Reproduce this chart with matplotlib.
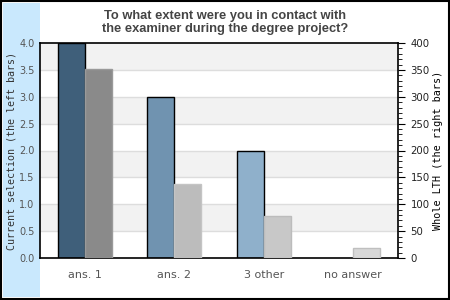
import matplotlib
matplotlib.use("Agg")
import matplotlib.pyplot as plt
from matplotlib.patches import Rectangle
from matplotlib.ticker import MultipleLocator

categories = ["ans. 1", "ans. 2", "3 other", "no answer"]
current = [4.0, 3.0, 2.0, 0.0]
whole = [352, 137, 78, 18]
blue_colors = ["#3f5f7a", "#7093b0", "#8fb0cb", "#b0c8dc"]
gray_colors = ["#8a8a8a", "#bcbcbc", "#c8c8c8", "#d8d8d8"]
gray_edges = ["#9a9a9a", "#c4c4c4", "#bcbcbc", "#bfbfbf"]

fig = plt.figure(figsize=(4.5, 3.0), dpi=100)
fig.patch.set_facecolor("white")
fig.add_artist(Rectangle((0.003, 0.004), 0.994, 0.992, transform=fig.transFigure,
                         fill=False, edgecolor="black", linewidth=1.5))
fig.add_artist(Rectangle((3/450, 3/300), 37/450, 294/300, transform=fig.transFigure,
                         facecolor="#c9e8fd", edgecolor="none", zorder=0))

ax = fig.add_axes([40/450, 1-258/300, 358/450, 215/300])
ax.set_xlim(-0.5, 3.5)
ax.set_ylim(0, 4)
ax.set_facecolor("white")
for lo in [0.5, 1.5, 2.5, 3.5]:
    ax.axhspan(lo, lo + 0.5, color="#f2f2f2", zorder=0, lw=0)
for y in [0.5, 1, 1.5, 2, 2.5, 3, 3.5]:
    ax.axhline(y, color="#dddddd", lw=1, zorder=0.5)

x = list(range(len(categories)))
w = 0.3
for i in x:
    if current[i] > 0:
        ax.bar(i - w/2, current[i], width=w, color=blue_colors[i], edgecolor="black",
               linewidth=1, zorder=2)
ax.set_yticks([0, 0.5, 1, 1.5, 2, 2.5, 3, 3.5, 4])
ax.set_yticklabels(["0.0", "0.5", "1.0", "1.5", "2.0", "2.5", "3.0", "3.5", "4.0"])
ax.tick_params(axis="y", length=0, labelsize=7, labelcolor="#555555", pad=4)
ax.set_xticks(x)
ax.set_xticklabels(categories)
ax.tick_params(axis="x", length=0, labelsize=8, labelcolor="#555555", pad=9)
for s in ax.spines.values():
    s.set_color("black")
    s.set_linewidth(1.2)
ax.set_ylabel("Current selection (the left bars)", family="DejaVu Sans Mono",
              fontsize=7.2, color="#333333", labelpad=2)

ax2 = ax.twinx()
ax2.set_ylim(0, 400)
for i in x:
    ax2.bar(i + w/2, whole[i], width=w, color=gray_colors[i], edgecolor=gray_edges[i],
            linewidth=1, zorder=2)
ax2.yaxis.set_major_locator(MultipleLocator(50))
ax2.yaxis.set_minor_locator(MultipleLocator(10))
ax2.tick_params(axis="y", which="major", length=5, labelsize=7.3, labelcolor="#222222", pad=4)
ax2.tick_params(axis="y", which="minor", length=3)
ax2.set_ylabel("Whole LTH (the right bars)", family="DejaVu Sans Mono",
               fontsize=7.3, color="black", labelpad=2)
for s in ax2.spines.values():
    s.set_visible(False)

fig.text(0.5, 0.965, "To what extent were you in contact with\nthe examiner during the degree project?",
         ha="center", va="top", fontsize=9.3, fontweight="bold", color="#444444",
         family="Liberation Sans", linespacing=1.1)

fig.savefig("out.png", dpi=100)
